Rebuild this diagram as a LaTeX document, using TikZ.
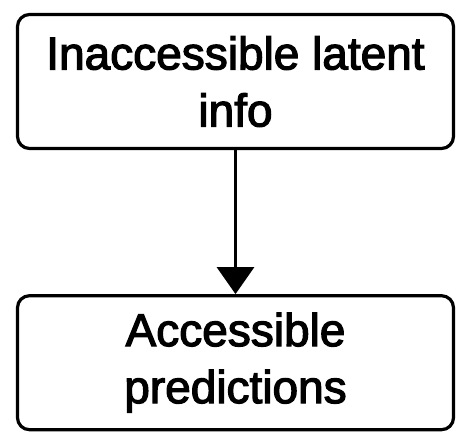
\documentclass[tikz,border=0pt]{standalone}
\usepackage{fontspec}
\setmainfont{Liberation Sans}[FakeBold=2.6]
\usepackage{tikz}
\usetikzlibrary{arrows.meta}
\usetikzlibrary{positioning}
\tikzset{box/.style={draw, line width=3.2pt, rounded corners=12pt, minimum width=436pt,
  minimum height=134pt, align=center, font=\fontsize{46}{57}\selectfont}}

\begin{document}
\begin{tikzpicture}[x=1pt, y=1pt]
    \useasboundingbox (0,0) rectangle (457,-434);
    \node[box] (n0) at (235.5,-81.5) {Inaccessible latent\\info};
    \node[box] (n1) [below=144pt of n0] {Accessible\\predictions};
    \draw[line width=3.2pt, -{Triangle[length=27pt, width=37pt]}] (n0) -- (n1);
  \end{tikzpicture}
\end{document}
